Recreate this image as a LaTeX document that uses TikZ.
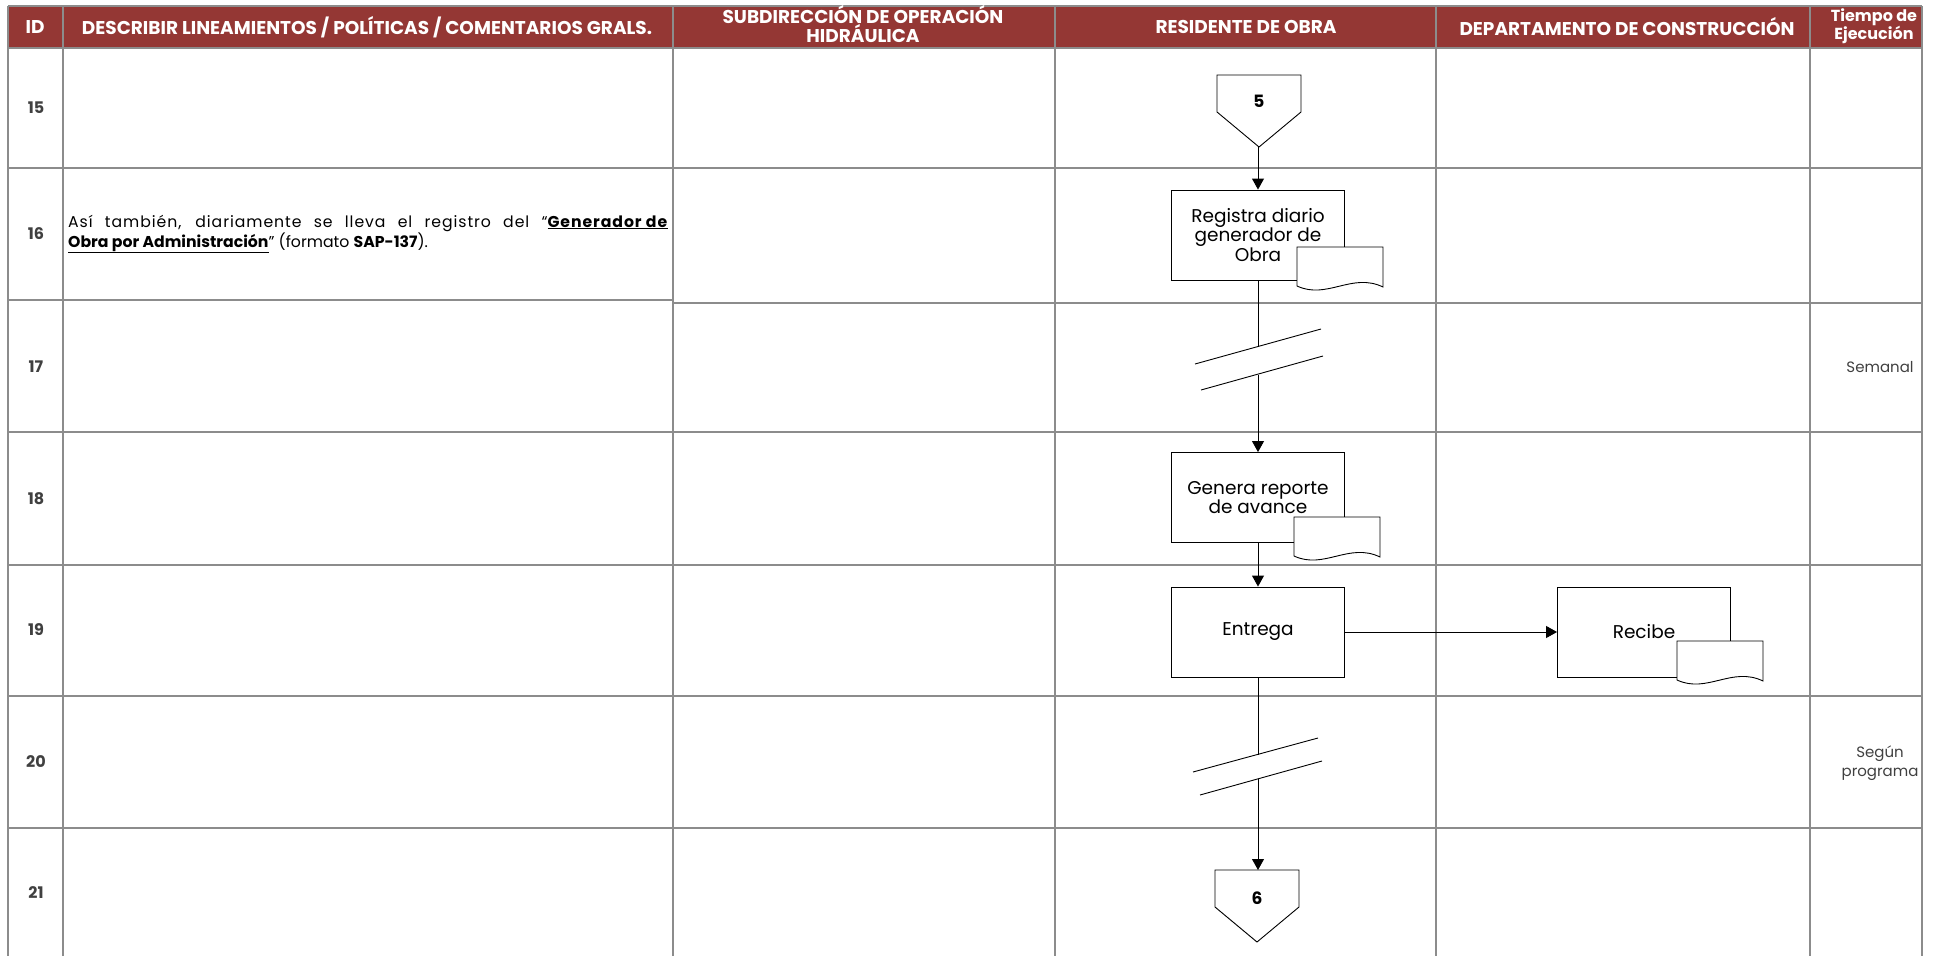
\documentclass[tikz,border=0pt]{standalone}
\usepackage{fontspec}
\setmainfont{Poppins}
\usetikzlibrary{arrows.meta}
\definecolor{hdrred}{RGB}{148,55,52}
\definecolor{gridgray}{RGB}{140,140,140}
\definecolor{idgray}{RGB}{64,64,64}
\tikzset{
  gridline/.style={draw=gridgray, line width=1.5pt},
  hdr/.style={text=white, font=\fontsize{18.5}{17}\selectfont\bfseries, align=center, inner sep=0pt},
  hdrsmall/.style={text=white, font=\fontsize{16}{18}\selectfont\bfseries, align=center, inner sep=0pt},
  idnum/.style={text=idgray, font=\fontsize{16}{18}\selectfont\bfseries, inner sep=0pt},
  timetxt/.style={text=idgray, font=\fontsize{15}{19}\selectfont, align=center, inner sep=0pt},
  procbox/.style={draw=black, line width=0.9pt, fill=white, minimum width=173pt, minimum height=90pt, align=center, font=\fontsize{18.5}{19.5}\selectfont, inner sep=0pt},
  flow/.style={draw=black, line width=0.9pt, -{Triangle[length=11pt,width=12pt]}},
  conn/.style={draw=black, line width=0.9pt},
  offtxt/.style={font=\fontsize{17}{18}\selectfont\bfseries, inner sep=0pt},
  docpic/.pic={\path[draw=black, line width=0.9pt, fill=white] (0,0) -- (86,0) -- (86,40) .. controls (55,25) and (30,53) .. (0,39) -- cycle;}
}
\begin{document}
\begin{tikzpicture}[x=1pt,y=-1pt]
\useasboundingbox (0,0) rectangle (1936,956);
% header band
\fill[hdrred] (8,6) rectangle (1922,48);
% grid
\foreach \x in {8,63,673,1055,1436,1810,1922} \draw[gridline] (\x,6) -- (\x,956);
\draw[gridline] (8,6) -- (1922,6);
\draw[gridline] (8,48) -- (1922,48);
\draw[gridline] (8,168) -- (1922,168);
\draw[gridline] (8,300) -- (673,300);
\draw[gridline] (673,303) -- (1922,303);
\draw[gridline] (8,432) -- (1922,432);
\draw[gridline] (8,565) -- (1922,565);
\draw[gridline] (8,696) -- (1922,696);
\draw[gridline] (8,828) -- (1922,828);
% header texts
\node[hdr] (hid) at (35,27) {ID};
\node[hdr] (hdesc) at (367,27) {DESCRIBIR LINEAMIENTOS / POLÍTICAS / COMENTARIOS GRALS.};
\node[hdr] (hsub) at (863,24) {SUBDIRECCIÓN DE OPERACIÓN\\HIDRÁULICA};
\node[hdr] (hres) at (1246,27) {RESIDENTE DE OBRA};
\node[hdr] (hdep) at (1627,27) {DEPARTAMENTO DE CONSTRUCCIÓN};
\node[hdrsmall] (htie) at (1874,26) {Tiempo de\\Ejecución};
% row ids
\node[idnum] (r15) at (36,108) {15};
\node[idnum] (r16) at (36,234) {16};
\node[idnum] (r17) at (36,367) {17};
\node[idnum] (r18) at (36,499) {18};
\node[idnum] (r19) at (36,630) {19};
\node[idnum] (r20) at (36,762) {20};
\node[idnum] (r21) at (36,893) {21};
% description text
\node[anchor=west, inner sep=0pt, font=\fontsize{15.7}{18}\selectfont] (desc16) at (68,234)
  {\parbox{600pt}{{\addfontfeature{LetterSpace=6}Así también, diariamente se lleva el registro del “\underline{\textbf{Generador de}}}\linebreak \underline{\textbf{Obra por Administración}}” (formato \textbf{SAP-137}).}};
% time texts
\node[timetxt] (t17) at (1880,367) {Semanal};
\node[timetxt] (t20) at (1880,763) {Según\\programa};
% off-page connector 5
\draw[conn] (1217,75) -- (1301,75) -- (1301,112) -- (1259,147) -- (1217,112) -- cycle;
\node[offtxt] (c5) at (1259,101) {5};
\coordinate (c5tip) at (1258,147);
% process boxes
\node[procbox] (b1) at (1258,235) {Registra diario\\generador de\\Obra};
\pic at (1297,247) {docpic};
\node[procbox] (b2) at (1258,497.5) {Genera reporte\\de avance};
\pic at (1294,517) {docpic};
\node[procbox] (b3) at (1258,632) {Entrega};
\node[procbox] (b4) at (1644,632) {Recibe};
\pic at (1677,641) {docpic};
% break 1 (row 17)
\coordinate (br1a) at (1258,347);
\coordinate (br1b) at (1258,375);
\draw[conn] (b1) -- (br1a);
\draw[conn] (1195,364) -- (1321,329);
\draw[conn] (1201,390) -- (1323,356);
\draw[flow] (br1b) -- (b2);
% to entrega
\draw[flow] (b2) -- (b3);
\draw[flow] (b3) -- (b4);
% break 2 (row 20)
\coordinate (br2a) at (1258,755);
\coordinate (br2b) at (1258,779);
\draw[conn] (b3) -- (br2a);
\draw[conn] (1193,772) -- (1318,738);
\draw[conn] (1200,795) -- (1322,761);
% off-page connector 6
\draw[conn] (1215,870) -- (1299,870) -- (1299,907) -- (1257,942) -- (1215,907) -- cycle;
\node[offtxt] (c6) at (1257,898) {6};
\coordinate (c6top) at (1258,870);
\draw[flow] (br2b) -- (c6top);
\draw[flow] (c5tip) -- (b1);
\end{tikzpicture}
\end{document}
